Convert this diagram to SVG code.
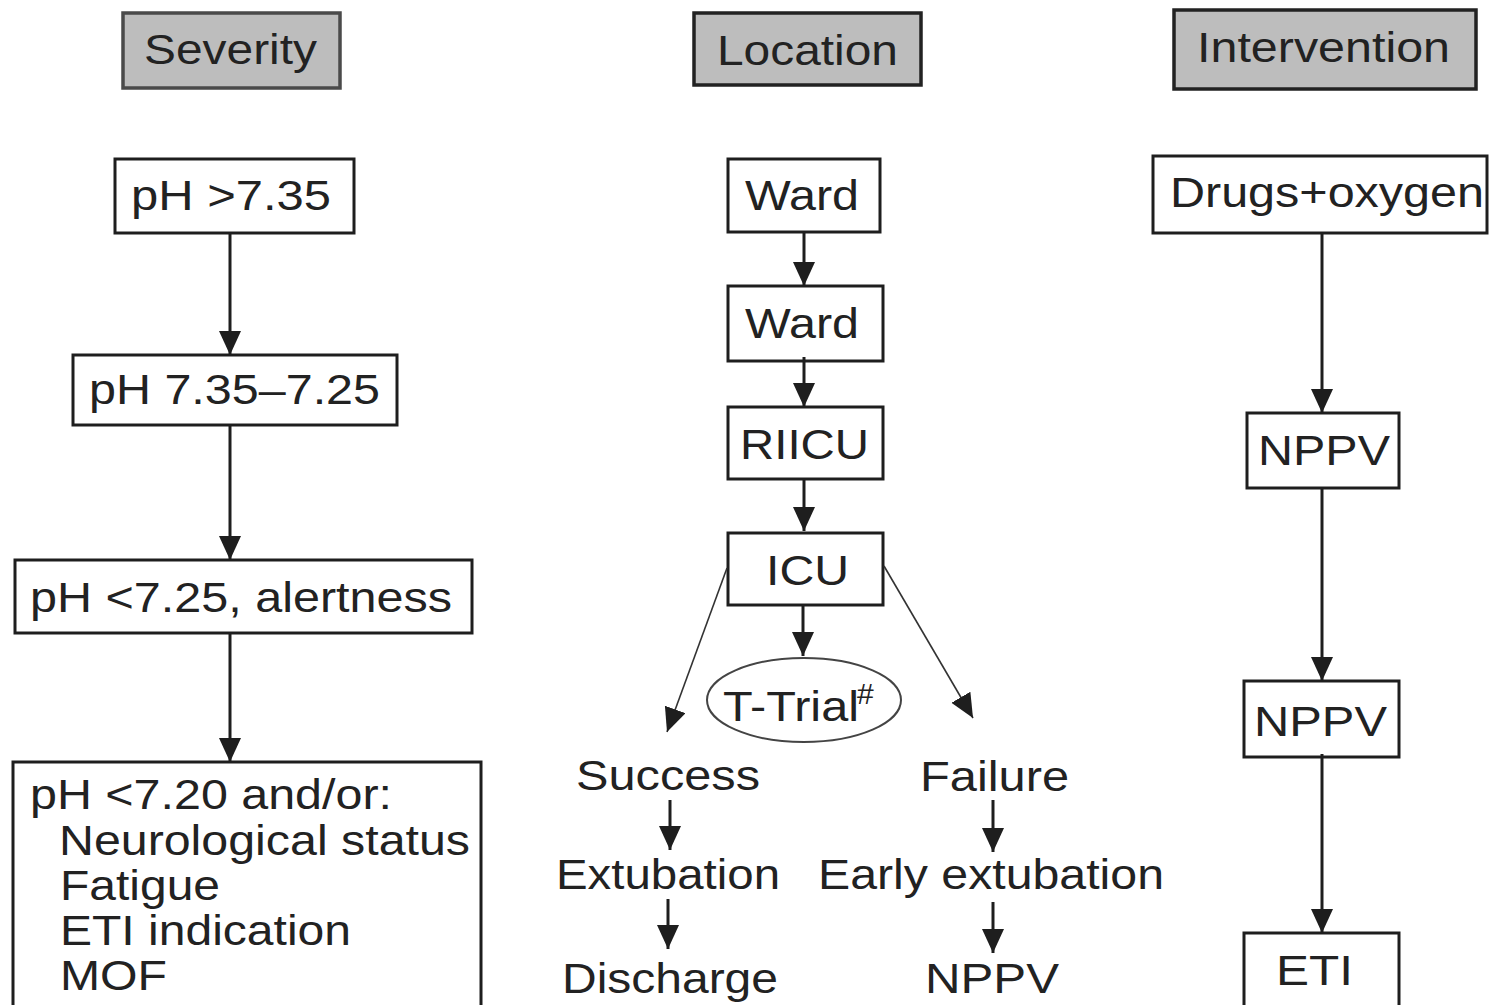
<svg xmlns="http://www.w3.org/2000/svg" width="1489" height="1005" viewBox="0 0 1489 1005">
<style>
  text { font-family: "Liberation Sans", Arial, sans-serif; font-size: 43px; fill: #222; }
  .box { fill: #fff; stroke: #1e1e1e; stroke-width: 3; }
  .head { fill: #bdbdbd; stroke: #222; stroke-width: 3.5; }
  .conn { stroke: #1e1e1e; stroke-width: 3; fill: none; }
  .thin { stroke: #333; stroke-width: 1.6; fill: none; }
</style>
<defs>
  <marker id="ah" markerUnits="userSpaceOnUse" markerWidth="26" markerHeight="24" refX="24" refY="11" orient="auto">
    <path d="M0,0 L24,11 L0,22 z" fill="#1e1e1e"/>
  </marker>
</defs>
<rect width="1489" height="1005" fill="#fff"/>

<g id="hdr-severity">
  <rect class="head" x="123" y="13" width="217" height="75" style="stroke:#4a4a4a"/>
  <text x="144" y="64" textLength="173" lengthAdjust="spacingAndGlyphs">Severity</text>
</g>
<g id="hdr-location">
  <rect class="head" x="694" y="13" width="227" height="72"/>
  <text x="717" y="65" textLength="181" lengthAdjust="spacingAndGlyphs">Location</text>
</g>
<g id="hdr-intervention">
  <rect class="head" x="1174" y="10" width="302" height="79"/>
  <text x="1197" y="62" textLength="253" lengthAdjust="spacingAndGlyphs">Intervention</text>
</g>

<g id="sev1">
  <rect class="box" x="115" y="159" width="239" height="74"/>
  <text x="131" y="210" textLength="200" lengthAdjust="spacingAndGlyphs">pH &gt;7.35</text>
</g>
<g id="sev2">
  <rect class="box" x="73" y="355" width="324" height="70"/>
  <text x="89" y="404" textLength="291" lengthAdjust="spacingAndGlyphs">pH 7.35–7.25</text>
</g>
<g id="sev3">
  <rect class="box" x="15" y="560" width="457" height="73"/>
  <text x="30" y="612" textLength="422" lengthAdjust="spacingAndGlyphs">pH &lt;7.25, alertness</text>
</g>
<g id="sev4">
  <rect class="box" x="13" y="762" width="468" height="260"/>
  <text x="30" y="809" textLength="362" lengthAdjust="spacingAndGlyphs">pH &lt;7.20 and/or:</text>
  <text x="59" y="855" textLength="411" lengthAdjust="spacingAndGlyphs">Neurological status</text>
  <text x="60" y="900" textLength="160" lengthAdjust="spacingAndGlyphs">Fatigue</text>
  <text x="60" y="945" textLength="291" lengthAdjust="spacingAndGlyphs">ETI indication</text>
  <text x="60" y="990" textLength="107" lengthAdjust="spacingAndGlyphs">MOF</text>
</g>

<g id="ward1">
  <rect class="box" x="728" y="159" width="152" height="73"/>
  <text x="745" y="210" textLength="114" lengthAdjust="spacingAndGlyphs">Ward</text>
</g>
<g id="ward2">
  <rect class="box" x="728" y="286" width="155" height="75"/>
  <text x="745" y="338" textLength="114" lengthAdjust="spacingAndGlyphs">Ward</text>
</g>
<g id="riicu">
  <rect class="box" x="728" y="407" width="155" height="72"/>
  <text x="740" y="459" textLength="129" lengthAdjust="spacingAndGlyphs">RIICU</text>
</g>
<g id="icu">
  <rect class="box" x="728" y="533" width="155" height="72"/>
  <text x="766" y="585" textLength="83" lengthAdjust="spacingAndGlyphs">ICU</text>
</g>
<g id="ttrial">
  <ellipse cx="804" cy="700" rx="97" ry="42" fill="none" stroke="#444" stroke-width="2"/>
  <text><tspan x="723" y="721" textLength="136" lengthAdjust="spacingAndGlyphs">T-Trial</tspan><tspan x="857" y="704" style="font-size:30px">#</tspan></text>
</g>
<g id="success">
  <text x="576" y="790" textLength="184" lengthAdjust="spacingAndGlyphs">Success</text>
</g>
<g id="extubation">
  <text x="556" y="889" textLength="224" lengthAdjust="spacingAndGlyphs">Extubation</text>
</g>
<g id="discharge">
  <text x="562" y="993" textLength="216" lengthAdjust="spacingAndGlyphs">Discharge</text>
</g>
<g id="failure">
  <text x="920" y="791" textLength="149" lengthAdjust="spacingAndGlyphs">Failure</text>
</g>
<g id="early-extubation">
  <text x="818" y="889" textLength="346" lengthAdjust="spacingAndGlyphs">Early extubation</text>
</g>
<g id="nppv-loc">
  <text x="925" y="993" textLength="134" lengthAdjust="spacingAndGlyphs">NPPV</text>
</g>

<g id="drugs">
  <rect class="box" x="1153" y="156" width="334" height="77"/>
  <text x="1170" y="207" textLength="314" lengthAdjust="spacingAndGlyphs">Drugs+oxygen</text>
</g>
<g id="nppv1">
  <rect class="box" x="1247" y="413" width="152" height="75"/>
  <text x="1258" y="465" textLength="132" lengthAdjust="spacingAndGlyphs">NPPV</text>
</g>
<g id="nppv2">
  <rect class="box" x="1244" y="681" width="155" height="76"/>
  <text x="1254" y="736" textLength="133" lengthAdjust="spacingAndGlyphs">NPPV</text>
</g>
<g id="eti">
  <rect class="box" x="1244" y="933" width="155" height="90"/>
  <text x="1276" y="985" textLength="77" lengthAdjust="spacingAndGlyphs">ETI</text>
</g>

<g id="connectors">
  <line class="conn" x1="230" y1="233" x2="230" y2="355" marker-end="url(#ah)"/>
  <line class="conn" x1="230" y1="425" x2="230" y2="560" marker-end="url(#ah)"/>
  <line class="conn" x1="230" y1="633" x2="230" y2="762" marker-end="url(#ah)"/>

  <line class="conn" x1="804" y1="232" x2="804" y2="286" marker-end="url(#ah)"/>
  <line class="conn" x1="804" y1="357" x2="804" y2="407" marker-end="url(#ah)"/>
  <line class="conn" x1="804" y1="479" x2="804" y2="531" marker-end="url(#ah)"/>
  <line class="conn" x1="803" y1="605" x2="803" y2="656" marker-end="url(#ah)"/>
  <line class="thin" x1="727" y1="568" x2="667" y2="732" marker-end="url(#ah)"/>
  <line class="thin" x1="884" y1="566" x2="973" y2="718" marker-end="url(#ah)"/>
  <line class="conn" x1="670" y1="800" x2="670" y2="850" marker-end="url(#ah)"/>
  <line class="conn" x1="668" y1="899" x2="668" y2="949" marker-end="url(#ah)"/>
  <line class="conn" x1="993" y1="800" x2="993" y2="852" marker-end="url(#ah)"/>
  <line class="conn" x1="993" y1="902" x2="993" y2="953" marker-end="url(#ah)"/>

  <line class="conn" x1="1322" y1="233" x2="1322" y2="413" marker-end="url(#ah)"/>
  <line class="conn" x1="1322" y1="488" x2="1322" y2="681" marker-end="url(#ah)"/>
  <line class="conn" x1="1322" y1="754" x2="1322" y2="933" marker-end="url(#ah)"/>
</g>
</svg>
